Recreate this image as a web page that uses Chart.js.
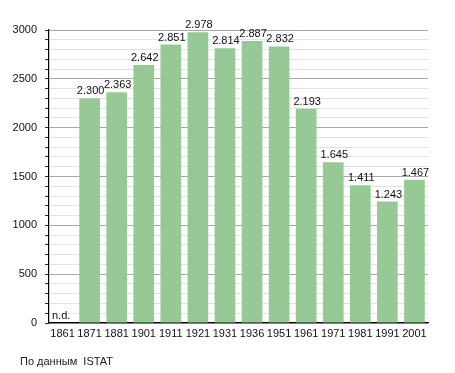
<!DOCTYPE html>
<html>
<head>
<meta charset="utf-8">
<script src="https://cdn.jsdelivr.net/npm/chart.js@4"></script>
<style>
  html, body { margin: 0; padding: 0; background: #fff; }
  #wrap { position: relative; width: 455px; height: 373px; }
  #note { position: absolute; left: 20px; top: 355px; font: 11px "Liberation Sans", Arial, sans-serif; color: #222; }
</style>
</head>
<body>
<div id="wrap">
  <canvas id="c" width="455" height="373"></canvas>
  <div id="note">По данным&nbsp; ISTAT</div>
</div>
<script>
"use strict";
// --- dati --------------------------------------------------------------------
const YEARS = ["1861", "1871", "1881", "1901", "1911", "1921", "1931", "1936", "1951", "1961", "1971", "1981", "1991", "2001"];
const POP = [null, 2300, 2363, 2642, 2851, 2978, 2814, 2887, 2832, 2193, 1645, 1411, 1243, 1467];
const MISSING = "n.d.";
const FONT = "Liberation Sans, Arial, sans-serif";

const fmt = (v) => v.toLocaleString("de-DE");

// etichette sopra le barre
const barLabels = {
  id: "barLabels",
  afterDatasetsDraw(chart) {
    const ctx = chart.ctx;
    const meta = chart.getDatasetMeta(0);
    ctx.save();
    ctx.font = "11px " + FONT;
    ctx.fillStyle = "#111";
    ctx.textAlign = "center";
    ctx.textBaseline = "alphabetic";
    meta.data.forEach((bar, i) => {
      const v = POP[i];
      if (v == null) {
        ctx.textAlign = "left";
        ctx.fillText(MISSING, chart.chartArea.left + 3, chart.scales.y.getPixelForValue(0) - 4);
        ctx.textAlign = "center";
        return;
      }
      ctx.fillText(fmt(v), bar.x + 1, bar.y - 4);
    });
    ctx.restore();
  }
};

new Chart(document.getElementById("c"), {
  type: "bar",
  data: {
    labels: YEARS,
    datasets: [{ data: POP, backgroundColor: "#97c996", borderWidth: 0, barPercentage: 0.78, categoryPercentage: 0.98 }]
  },
  options: {
    responsive: false,
    animation: false,
    layout: { padding: { top: 30, right: 27, bottom: 30, left: 0 } },
    plugins: { legend: { display: false }, tooltip: { enabled: false } },
    scales: {
      x: {
        afterFit: (s) => { s.height = 20; },
        grid: { display: false, drawTicks: false },
        border: { color: "#000", width: 1.2 },
        ticks: { color: "#111", font: { size: 11, family: FONT }, padding: 4, maxRotation: 0, autoSkip: false }
      },
      y: {
        min: 0, max: 3000,
        afterFit: (s) => { s.width = 49; },
        border: { color: "#000", width: 1.2 },
        grid: {
          color: (c) => (c.tick && c.tick.value % 500 === 0 ? "#a8a8a8" : "#e2e2e2"),
          tickColor: "#333",
          tickLength: 4,
          lineWidth: 1
        },
        ticks: {
          stepSize: 100,
          color: "#111",
          font: { size: 11, family: FONT },
          padding: 8,
          autoSkip: false,
          callback: (v) => (v % 500 === 0 ? String(v) : "")
        }
      }
    }
  },
  plugins: [barLabels]
});
</script>
</body>
</html>
